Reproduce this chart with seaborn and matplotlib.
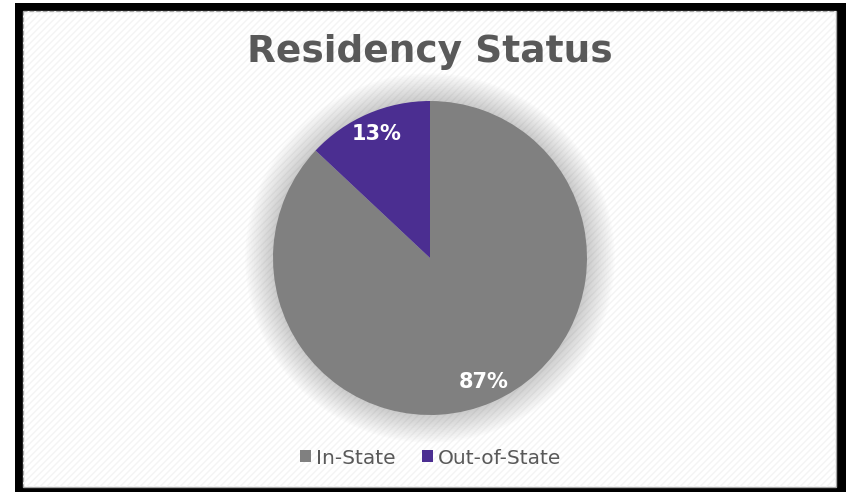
import matplotlib
matplotlib.use("Agg")
import matplotlib.pyplot as plt
from matplotlib.patches import Rectangle, Patch, Circle
import seaborn as sns

categories = ["In-State", "Out-of-State"]
shares = [87, 13]
title = "Residency Status"

sns.set_theme(style="white")
plt.rcParams['font.family'] = ['DejaVu Sans']
plt.rcParams['hatch.linewidth'] = 1.0
palette = sns.color_palette(["#808080", "#4B2E91"])

W, H = 846, 492
fig = plt.figure(figsize=(W / 100, H / 100), dpi=100)
fig.patch.set_facecolor("white")

def px(x0, y0, x1, y1):
    return (x0 / W, 1 - y1 / H, (x1 - x0) / W, (y1 - y0) / H)

# black frame
l, b, w, h = px(15, 3, 846, 495)
fig.patches.append(Rectangle((l, b), w, h, transform=fig.transFigure,
                             facecolor="black", edgecolor="none", zorder=-3))
l, b, w, h = px(23, 11, 836, 487)
fig.patches.append(Rectangle((l, b), w, h, transform=fig.transFigure,
                             facecolor="white", edgecolor="#A6A6A6", lw=1, zorder=-2))
fig.patches.append(Rectangle((l, b), w, h, transform=fig.transFigure,
                             facecolor="none", edgecolor="#F4F4F4", hatch="/////",
                             lw=0, zorder=-1))

# pie axes
cx, cy, r = 430, 258, 157
lim = 1.3
ax = fig.add_axes(px(cx - r * lim, cy - r * lim, cx + r * lim, cy + r * lim))
ax.set_zorder(5)
ax.set_facecolor("none")
ax.patch.set_alpha(0)

# soft shadow glow
for k in range(16, 0, -1):
    ax.add_patch(Circle((0.0, 0.0), 1 + k * 0.011, facecolor="#606060",
                        edgecolor="none", alpha=0.02, zorder=0))

wedges, texts, autotexts = ax.pie(
    shares, colors=palette, startangle=90, counterclock=False,
    autopct=lambda p: f"{p:.0f}%", pctdistance=0.86,
    wedgeprops=dict(linewidth=0, edgecolor="none"),
    textprops=dict(color="white", fontsize=15, fontweight="bold"))
for wdg in wedges:
    wdg.set_zorder(2)
for t in autotexts:
    t.set_zorder(3)
ax.set_xlim(-lim, lim)
ax.set_ylim(-lim, lim)
ax.set_aspect("equal")
ax.axis("off")

fig.text(cx / W, 1 - 52 / H, title, ha="center", va="center",
         fontsize=27, fontweight="bold", color="#595959", zorder=6)

handles = [Patch(facecolor=c, edgecolor="none") for c in palette]
leg = fig.legend(handles, categories, loc="center", bbox_to_anchor=(431 / W, 1 - 458 / H),
                 ncol=2, frameon=False, fontsize=14.5, handlelength=0.55, handleheight=0.55,
                 handletextpad=0.25, columnspacing=1.3, labelcolor="#595959")
leg.set_zorder(6)

fig.savefig("out.png", dpi=100, facecolor=fig.get_facecolor())
